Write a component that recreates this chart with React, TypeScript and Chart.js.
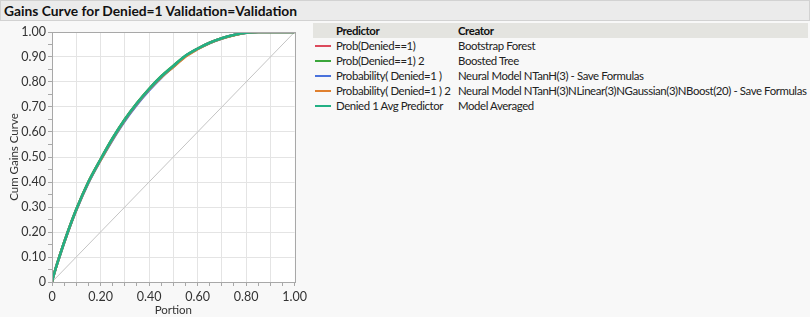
import React, { useEffect, useRef } from "react";
import { Chart, registerables } from "chart.js";

Chart.register(...registerables);

const titleText = "Gains Curve for Denied=1 Validation=Validation";
const xTitle = "Portion";
const yTitle = "Cum Gains Curve";

const portion = [0, 0.005, 0.03, 0.065, 0.1, 0.15, 0.2, 0.25, 0.3, 0.35, 0.4, 0.45, 0.5, 0.55, 0.6, 0.65, 0.7, 0.75, 0.8, 0.85, 0.9, 0.95, 1];
const probForest = [0, 0.02, 0.1, 0.2, 0.29, 0.4, 0.49, 0.574, 0.649, 0.714, 0.771, 0.821, 0.863, 0.904, 0.933, 0.957, 0.975, 0.988, 0.997, 1, 1, 1, 1];
const probBoosted = [0, 0.02, 0.1, 0.201, 0.291, 0.401, 0.491, 0.576, 0.651, 0.716, 0.773, 0.823, 0.865, 0.905, 0.934, 0.957, 0.975, 0.988, 0.997, 1, 1, 1, 1];
const probNeural = [0, 0.02, 0.099, 0.198, 0.287, 0.396, 0.486, 0.569, 0.644, 0.709, 0.766, 0.817, 0.861, 0.903, 0.932, 0.956, 0.974, 0.988, 0.997, 1, 1, 1, 1];
const probNeural2 = [0, 0.02, 0.1, 0.199, 0.288, 0.398, 0.487, 0.572, 0.648, 0.713, 0.77, 0.819, 0.86, 0.901, 0.931, 0.956, 0.974, 0.987, 0.997, 1, 1, 1, 1];
const avgPredictor = [0, 0.02, 0.1, 0.2, 0.29, 0.4, 0.49, 0.575, 0.65, 0.715, 0.772, 0.822, 0.864, 0.905, 0.933, 0.957, 0.975, 0.988, 0.997, 1, 1, 1, 1];
const baseline = [0, 1];

const predictors = ["Prob(Denied==1)", "Prob(Denied==1) 2", "Probability( Denied=1 )", "Probability( Denied=1 ) 2", "Denied 1 Avg Predictor"];
const creators = ["Bootstrap Forest", "Boosted Tree", "Neural Model NTanH(3) - Save Formulas", "Neural Model NTanH(3)NLinear(3)NGaussian(3)NBoost(20) - Save Formulas", "Model Averaged"];
const seriesColors = ["#dc4a5c", "#3ba63b", "#4a72dc", "#e0802e", "#22b084"];
const seriesValues = [probForest, probBoosted, probNeural, probNeural2, avgPredictor];

const FONT = "Lato, sans-serif";
const LEG = 11.4;

const isMult = (v: number, step: number) => Math.abs(v / step - Math.round(v / step)) < 1e-6;

const framePlugin = {
  id: "frame",
  beforeDraw(chart: any) {
    const { ctx, chartArea } = chart;
    ctx.save();
    ctx.fillStyle = "#ffffff";
    ctx.fillRect(chartArea.left, chartArea.top, chartArea.right - chartArea.left, chartArea.bottom - chartArea.top);
    ctx.restore();
  },
  afterDraw(chart: any) {
    const { ctx, chartArea } = chart;
    ctx.save();
    ctx.strokeStyle = "#a8a8a8";
    ctx.lineWidth = 1;
    ctx.strokeRect(Math.round(chartArea.left) + 0.5, Math.round(chartArea.top) + 0.5, Math.round(chartArea.right - chartArea.left), Math.round(chartArea.bottom - chartArea.top));
    ctx.restore();
  },
};

export default function App() {
  const canvasRef = useRef<HTMLCanvasElement>(null);

  useEffect(() => {
    document.body.style.margin = "0";
    const canvas = canvasRef.current;
    if (!canvas) return;
    const datasets: any[] = [
      {
        label: "baseline",
        data: baseline.map((v) => ({ x: v, y: v })),
        borderColor: "#c4c4c4",
        borderWidth: 1,
        pointRadius: 0,
        showLine: true,
        order: 10,
      },
    ];
    seriesValues.forEach((vals, i) => {
      datasets.push({
        label: predictors[i],
        data: vals.map((v, j) => ({ x: portion[j], y: v })),
        borderColor: seriesColors[i],
        borderWidth: 2.5,
        pointRadius: 0,
        showLine: true,
        cubicInterpolationMode: "monotone",
        order: 5 - i,
      });
    });
    const chart = new Chart(canvas, {
      type: "scatter",
      data: { datasets },
      plugins: [framePlugin],
      options: {
        animation: false,
        responsive: false,
        maintainAspectRatio: false,
        layout: { padding: { left: 0, top: 10, right: 8, bottom: 0 } },
        plugins: { legend: { display: false }, tooltip: { enabled: false }, title: { display: false } },
        scales: {
          x: {
            type: "linear",
            min: 0,
            max: 1,
            afterFit: (s: any) => { s.height = 35; },
            afterBuildTicks: (s: any) => {
              const t: any[] = [];
              for (let i = 0; i <= 20; i++) t.push({ value: i * 0.05 });
              s.ticks = t;
            },
            border: { display: false },
            grid: {
              color: (c: any) => (c.tick && isMult(c.tick.value, 0.1) && c.tick.value > 0 && c.tick.value < 1 ? "#e4e4e4" : "rgba(0,0,0,0)"),
              tickColor: "#a8a8a8",
              tickLength: 4,
              lineWidth: 1,
            },
            ticks: {
              autoSkip: false,
              maxRotation: 0,
              padding: 3,
              color: "#333333",
              font: { family: FONT, size: 12.5 },
              callback: (v: any) => {
                const n = Number(v);
                if (!isMult(n, 0.2)) return "";
                return n === 0 ? "0" : n.toFixed(2);
              },
            },
            title: { display: true, text: xTitle, color: "#333333", font: { family: FONT, size: 11.5 }, padding: { top: 0, bottom: 0 } },
          },
          y: {
            type: "linear",
            min: 0,
            max: 1,
            afterFit: (s: any) => { s.width = 52; },
            afterBuildTicks: (s: any) => {
              const t: any[] = [];
              for (let i = 0; i <= 20; i++) t.push({ value: i * 0.05 });
              s.ticks = t;
            },
            border: { display: false },
            grid: {
              color: (c: any) => (c.tick && isMult(c.tick.value, 0.1) && c.tick.value > 0 && c.tick.value < 1 ? "#e4e4e4" : "rgba(0,0,0,0)"),
              tickColor: "#a8a8a8",
              tickLength: 4,
              lineWidth: 1,
            },
            ticks: {
              autoSkip: false,
              padding: 2,
              color: "#333333",
              font: { family: FONT, size: 12.5 },
              callback: (v: any) => {
                const n = Number(v);
                if (!isMult(n, 0.1)) return "";
                return n === 0 ? "0" : n.toFixed(2);
              },
            },
            title: { display: true, text: yTitle, color: "#333333", font: { family: FONT, size: 11.5 }, padding: { top: 7, bottom: 0 } },
          },
        },
      },
    } as any);
    return () => chart.destroy();
  }, []);

  const txt: any = { position: "absolute", fontSize: LEG, letterSpacing: "-0.4px", lineHeight: "15px", whiteSpace: "nowrap", color: "#222" };

  return (
    <div style={{ position: "absolute", left: 0, top: 0, width: 810, height: 317, background: "#f8f8f8", overflow: "hidden", fontFamily: FONT, color: "#222" }}>
      <div style={{ position: "absolute", left: 0, top: 0, width: 805, height: 19, background: "#ebebeb", border: "1px solid #d2d2d2", fontWeight: 700, fontSize: 13.8, lineHeight: "19px", paddingLeft: 3, color: "#111" }}>
        {titleText}
      </div>
      <canvas ref={canvasRef} width={310} height={295} style={{ position: "absolute", left: 0, top: 22, width: 310, height: 295 }} />
      <div style={{ position: "absolute", left: 313, top: 23, width: 495, height: 15, background: "#e4e4e0" }} />
      <div style={{ ...txt, left: 336, top: 23, fontWeight: 700, color: "#111" }}>Predictor</div>
      <div style={{ ...txt, left: 458, top: 23, fontWeight: 700, color: "#111" }}>Creator</div>
      {predictors.map((p, i) => (
        <React.Fragment key={p}>
          <div style={{ position: "absolute", left: 315, top: 45 + i * 15, width: 16, height: 2, background: seriesColors[i] }} />
          <div style={{ ...txt, left: 336, top: 38 + i * 15 }}>{p}</div>
          <div style={{ ...txt, left: 458, top: 38 + i * 15 }}>{creators[i]}</div>
        </React.Fragment>
      ))}
    </div>
  );
}
